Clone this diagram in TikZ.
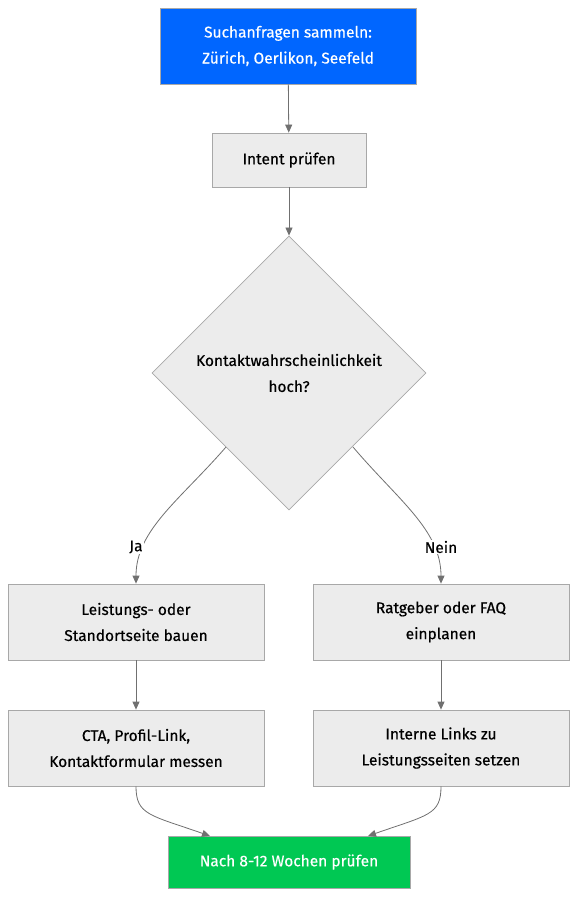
\documentclass[tikz,border=0pt]{standalone}
\usepackage{fontspec}
\setmainfont{Fira Sans}[FakeBold=0.4]
\usetikzlibrary{shapes.geometric,arrows.meta}
\definecolor{boxfill}{HTML}{ECECEC}
\definecolor{boxline}{HTML}{A8A8A8}
\definecolor{bluefill}{HTML}{0066FF}
\definecolor{greenfill}{HTML}{00C853}
\definecolor{edgecol}{HTML}{707070}
\tikzset{
  box/.style={draw=boxline, fill=boxfill, line width=0.8pt, align=center, inner sep=0pt, text=black, font=\fontsize{15.5}{26}\selectfont},
  bluebox/.style={box, fill=bluefill, draw=boxline, text=white},
  greenbox/.style={box, fill=greenfill, draw=boxline, text=white},
  conn/.style={draw=edgecol, line width=0.8pt, -{Triangle[length=8pt,width=7pt]}},
  lbl/.style={fill=white, inner sep=1pt, font=\fontsize{15.5}{18}\selectfont}
}
\begin{document}
\begin{tikzpicture}[x=1pt,y=-1pt]
\useasboundingbox (0,0) rectangle (586,910);
\node[bluebox, minimum width=256pt, minimum height=76pt] (a) at (288,46) {Suchanfragen sammeln:\\Zürich, Oerlikon, Seefeld};
\node[box, minimum width=154pt, minimum height=54pt] (b) at (289,160) {Intent prüfen};
\node[box, shape=diamond, minimum width=274pt, minimum height=274pt] (c) at (289,373) {Kontaktwahrscheinlichkeit\\hoch?};
\node[box, minimum width=256pt, minimum height=76pt] (d) at (136,622) {Leistungs- oder\\Standortseite bauen};
\node[box, minimum width=256pt, minimum height=76pt] (e) at (441,622) {Ratgeber oder FAQ\\einplanen};
\node[box, minimum width=256pt, minimum height=76pt] (f) at (136,748) {CTA, Profil-Link,\\Kontaktformular messen};
\node[box, minimum width=256pt, minimum height=76pt] (g) at (441,748) {Interne Links zu\\Leistungsseiten setzen};
\node[greenbox, minimum width=242pt, minimum height=52pt] (h) at (289,862) {Nach 8-12 Wochen prüfen};
\coordinate (cl) at (226,447);
\coordinate (cr) at (353,447);
\draw[conn] (a) -- (b);
\draw[conn] (b) -- (c);
\draw[conn] (cl) .. controls (180,500) and (136,530) .. (d.north -| 136,0);
\draw[conn] (cr) .. controls (398,500) and (441,530) .. (e.north);
\node[lbl] (ja) at (136,547) {Ja};
\node[lbl] (nein) at (441,547) {Nein};
\draw[conn] (d) -- (f);
\draw[conn] (e) -- (g);
\draw[conn] (f.south) .. controls (136,815) and (150,815) .. (210,836);
\draw[conn] (g.south) .. controls (441,815) and (428,815) .. (368,836);
\end{tikzpicture}
\end{document}
